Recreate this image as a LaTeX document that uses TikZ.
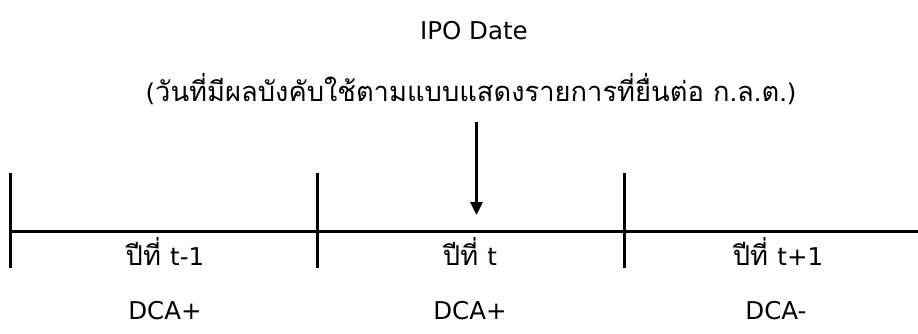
\documentclass[tikz,border=0pt]{standalone}
\usepackage{fontspec}
\setmainfont[Script=Thai]{Loma}
\newfontfamily\lat{DejaVu Sans}
\newcommand{\latn}[1]{{\lat\fontsize{24.5}{27}\selectfont #1}}
\usetikzlibrary{arrows.meta}
\begin{document}
\begin{tikzpicture}[x=1pt,y=-1pt,
  txt/.style={font=\fontsize{27.3}{30}\selectfont, inner sep=0pt, anchor=center},
  ln/.style={line width=3pt, black}]
\useasboundingbox (0,0) rectangle (918,334);
\node[txt] (ipo) at (474,31) {\latn{IPO Date}};
\node[txt] (desc) at (471,89) {\latn{(}วันที่มีผลบังคับใช้ตามแบบแสดงรายการที่ยื่นต่อ ก.ล.ต.\latn{)}};
\coordinate (as) at (476.5,122);
\coordinate (ae) at (476.5,215);
\draw[ln, -{Triangle[length=13pt,width=12pt]}] (as) -- (ae);
\coordinate (h1) at (10,231);
\coordinate (h2) at (918,231);
\draw[ln] (h1) -- (h2);
\foreach \x/\n in {10/a,317/b,624/c}{
  \coordinate (\n t) at (\x,173);
  \coordinate (\n b) at (\x,268);
  \draw[ln] (\n t) -- (\n b);
}
\node[txt] (y1) at (165,251) {ปีที่ \latn{t-1}};
\node[txt] (y2) at (470,251) {ปีที่ \latn{t}};
\node[txt] (y3) at (778,251) {ปีที่ \latn{t+1}};
\node[txt] (d1) at (165,311) {\latn{DCA+}};
\node[txt] (d2) at (470,311) {\latn{DCA+}};
\node[txt] (d3) at (776,311) {\latn{DCA-}};
\end{tikzpicture}
\end{document}
